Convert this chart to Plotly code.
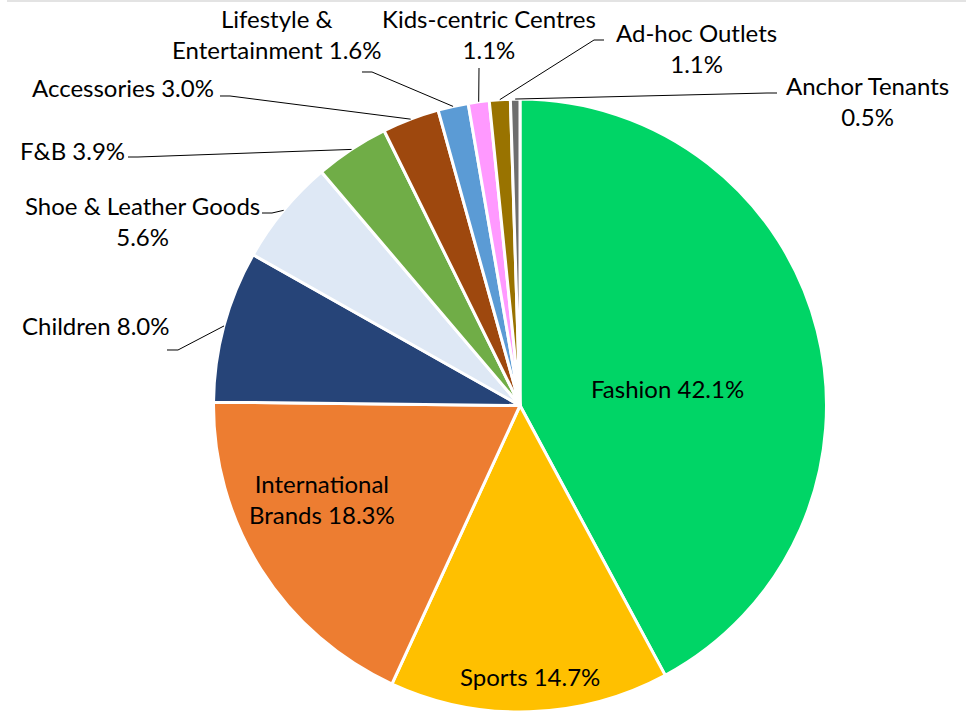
import math

import plotly.graph_objects as go

W, H = 966, 712

categories = [
    "Fashion",
    "Sports",
    "International Brands",
    "Children",
    "Shoe & Leather Goods",
    "F&B",
    "Accessories",
    "Lifestyle & Entertainment",
    "Kids-centric Centres",
    "Ad-hoc Outlets",
    "Anchor Tenants",
]
shares = [42.1, 14.7, 18.3, 8.0, 5.6, 3.9, 3.0, 1.6, 1.1, 1.1, 0.5]
colors = [
    "#00D566",
    "#FFC000",
    "#ED7D31",
    "#264478",
    "#DEE8F5",
    "#70AD47",
    "#9E480E",
    "#5B9BD5",
    "#FF99FF",
    "#997300",
    "#6E6E6E",
]
# how each label is broken into lines
label_lines = {
    "International Brands": "International<br>Brands {v:.1f}%",
    "Shoe & Leather Goods": "Shoe & Leather Goods<br>{v:.1f}%",
    "Lifestyle & Entertainment": "Lifestyle &<br>Entertainment {v:.1f}%",
    "Kids-centric Centres": "Kids-centric Centres<br>{v:.1f}%",
    "Ad-hoc Outlets": "Ad-hoc Outlets<br>{v:.1f}%",
    "Anchor Tenants": "Anchor Tenants<br>{v:.1f}%",
}

# layout: label centres (px) and leader line starts (px) for outside labels
label_pos = {
    "Fashion": (667, 388),
    "Sports": (530, 676),
    "International Brands": (322, 499),
    "Children": (95, 325),
    "Shoe & Leather Goods": (142, 221),
    "F&B": (72, 150),
    "Accessories": (123, 88),
    "Lifestyle & Entertainment": (277, 34),
    "Kids-centric Centres": (489, 34),
    "Ad-hoc Outlets": (696, 48),
    "Anchor Tenants": (867, 101),
}
leader_start = {
    "Children": [(167, 350), (178, 350)],
    "Shoe & Leather Goods": [(262, 213), (272, 213)],
    "F&B": [(128, 157), (138, 157)],
    "Accessories": [(220, 96), (230, 96)],
    "Lifestyle & Entertainment": [(362, 72), (372, 72)],
    "Kids-centric Centres": [(479, 68)],
    "Ad-hoc Outlets": [(604, 40), (594, 40)],
    "Anchor Tenants": [(777, 93), (767, 93)],
}

top_px = 99
dom_h = (H - top_px) / H
radius = (H - top_px) / 2
cx, cy = 520, H - radius
dom_w = 2 * radius / W


def paper(p):
    return p[0] / W, 1 - p[1] / H


fig = go.Figure(
    go.Pie(
        labels=categories,
        values=shares,
        sort=False,
        direction="clockwise",
        rotation=0,
        textinfo="none",
        hoverinfo="label+percent",
        marker={"colors": colors, "line": {"color": "white", "width": 3}},
        domain={"x": [cx / W - dom_w / 2, cx / W + dom_w / 2], "y": [0, dom_h]},
        showlegend=False,
    )
)

total = sum(shares)
cum = 0.0
for name, v in zip(categories, shares):
    mid = (cum + v / 2) / total * 2 * math.pi
    cum += v
    edge = (cx + radius * math.sin(mid), cy - radius * math.cos(mid))
    text = label_lines.get(name, name + " {v:.1f}%").format(v=v)
    lx, ly = paper(label_pos[name])
    fig.add_annotation(
        x=lx, y=ly, xref="paper", yref="paper", text=text, showarrow=False,
        xanchor="center", yanchor="middle", align="center",
        font={"size": 24, "color": "black"},
    )
    if name in leader_start:
        pts = [paper(p) for p in leader_start[name] + [edge]]
        path = "M " + " L ".join(f"{x:.5f},{y:.5f}" for x, y in pts)
        fig.add_shape(type="path", path=path, xref="paper", yref="paper",
                      line={"color": "black", "width": 1})

fig.add_shape(type="line", xref="paper", yref="paper", x0=7 / W, x1=1, y0=1 - 1 / H, y1=1 - 1 / H,
              line={"color": "#E3E3E3", "width": 2})

fig.update_layout(
    width=W,
    height=H,
    margin={"l": 0, "r": 0, "t": 0, "b": 0},
    paper_bgcolor="white",
    plot_bgcolor="white",
    font={"family": "Lato, Carlito, Calibri, sans-serif", "color": "black"},
)
fig.write_html(
    "out.html",
    config={"displayModeBar": False},
    post_script="document.body.style.margin='0';",
)
